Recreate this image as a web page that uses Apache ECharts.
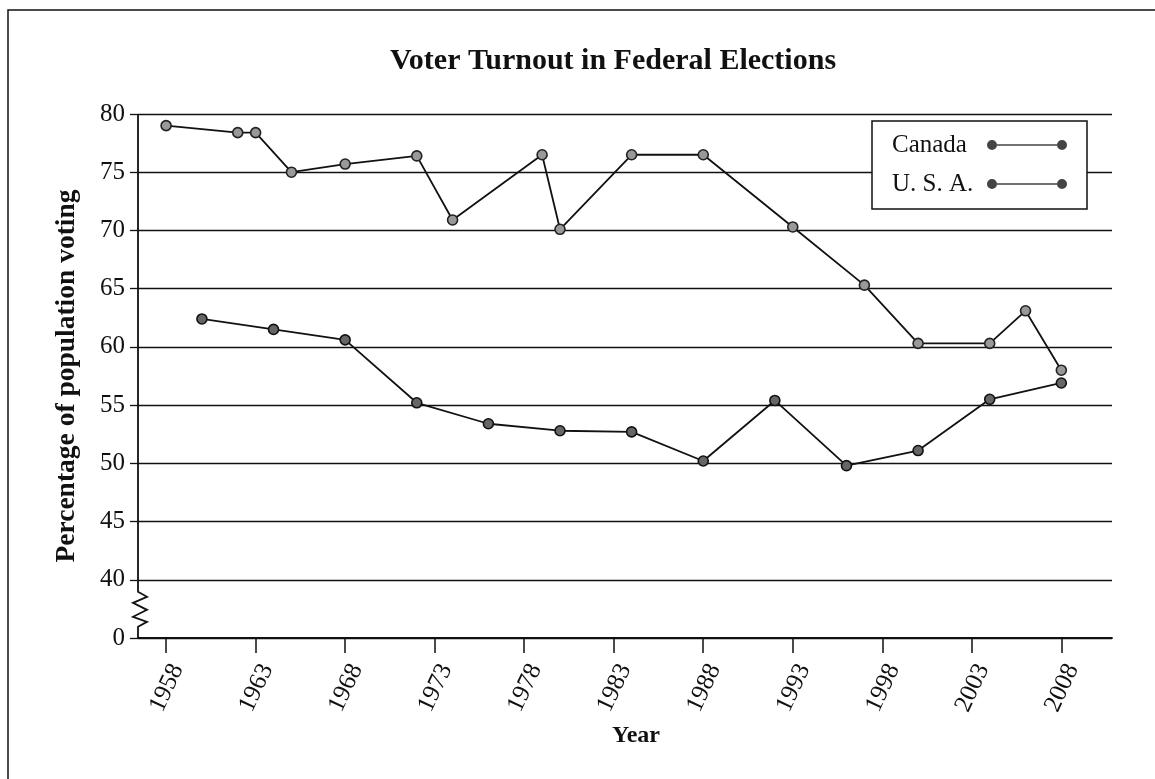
<!DOCTYPE html>
<html>
<head>
<meta charset="utf-8">
<script src="https://cdn.jsdelivr.net/npm/echarts@6/dist/echarts.min.js"></script>
<style>
html,body{margin:0;padding:0;background:#fff;}
#chart{width:1155px;height:779px;}
</style>
</head>
<body>
<div id="chart"></div>
<script>
// ---- data ----
const canadaYears = [1958, 1962, 1963, 1965, 1968, 1972, 1974, 1979, 1980, 1984, 1988, 1993, 1997, 2000, 2004, 2006, 2008];
const canadaTurnout = [79.0, 78.4, 78.4, 75.0, 75.7, 76.4, 70.9, 76.5, 70.1, 76.5, 76.5, 70.3, 65.3, 60.3, 60.3, 63.1, 58.0];
const usaYears = [1960, 1964, 1968, 1972, 1976, 1980, 1984, 1988, 1992, 1996, 2000, 2004, 2008];
const usaTurnout = [62.4, 61.5, 60.6, 55.2, 53.4, 52.8, 52.7, 50.2, 55.4, 49.8, 51.1, 55.5, 56.9];
const yearTicks = [1958, 1963, 1968, 1973, 1978, 1983, 1988, 1993, 1998, 2003, 2008];
const seriesNames = ['Canada', 'U. S. A.'];
// the lowest band of the y axis (35..40) stands for the broken range 0..40
const breakValue = 35;
const breakLabel = '0';

const serif = '"Liberation Serif", "DejaVu Serif", serif';
const chart = echarts.init(document.getElementById('chart'));

const legendIcon = 'path://M0,5a5,5 0 1,0 10,0a5,5 0 1,0 -10,0z M70,5a5,5 0 1,0 10,0a5,5 0 1,0 -10,0z M10,4.3h60v1.4h-60z';

const option = {
  backgroundColor: '#fff',
  animation: false,
  title: {
    text: 'Voter Turnout in Federal Elections',
    left: 608,
    textAlign: 'center',
    top: 41,
    textStyle: { fontFamily: serif, fontWeight: 'bold', fontSize: 30, color: '#111' }
  },
  grid: { left: 138, right: 43, top: 114, bottom: 141 },
  legend: {
    orient: 'vertical',
    left: 872,
    top: 121,
    align: 'right',
    padding: [11, 20, 12, 20],
    itemGap: 13,
    itemWidth: 80,
    itemHeight: 10,
    icon: legendIcon,
    borderColor: '#111',
    borderWidth: 1.5,
    backgroundColor: '#fff',
    itemStyle: { color: '#444', borderColor: '#111', borderWidth: 0 },
    formatter: name => '{t|' + name + '}',
    textStyle: {
      fontFamily: serif, fontSize: 25, color: '#111', lineHeight: 26,
      rich: { t: { width: 90, align: 'left', fontFamily: serif, fontSize: 25, color: '#111', lineHeight: 26 } }
    },
    data: seriesNames
  },
  xAxis: {
    type: 'value',
    min: 1956.43,
    max: 2010.83,
    name: 'Year',
    nameLocation: 'middle',
    nameGap: 86,
    nameTextStyle: { fontFamily: serif, fontWeight: 'bold', fontSize: 24, color: '#111', padding: [0, 0, 0, 22] },
    axisLine: { show: true, onZero: false, lineStyle: { color: '#111', width: 1.8 } },
    axisTick: { show: true, customValues: yearTicks, length: 15, lineStyle: { color: '#111', width: 1.5 } },
    axisLabel: {
      customValues: yearTicks,
      rotate: 65,
      margin: 22,
      verticalAlign: 'top',
      fontFamily: serif,
      fontSize: 25,
      color: '#111',
      formatter: v => String(v)
    },
    splitLine: { show: false }
  },
  yAxis: {
    type: 'value',
    min: breakValue,
    max: 80,
    interval: 5,
    name: 'Percentage of population voting',
    nameLocation: 'middle',
    nameGap: 57,
    nameTextStyle: { fontFamily: serif, fontWeight: 'bold', fontSize: 27.5, color: '#111' },
    axisLine: { show: false },
    axisTick: { show: true, length: 8, lineStyle: { color: '#111', width: 1.3 } },
    axisLabel: {
      margin: 13,
      fontFamily: serif,
      fontSize: 25,
      color: '#111',
      formatter: v => (v === breakValue ? breakLabel : String(v))
    },
    splitLine: { show: true, lineStyle: { color: '#111', width: 1.4 } }
  },
  series: [
    {
      name: seriesNames[0],
      type: 'line',
      data: canadaYears.map((y, i) => [y, canadaTurnout[i]]),
      symbol: 'circle',
      symbolSize: 10,
      lineStyle: { color: '#111', width: 1.8 },
      itemStyle: { color: '#999', borderColor: '#222', borderWidth: 1.6 },
      z: 3
    },
    {
      name: seriesNames[1],
      type: 'line',
      data: usaYears.map((y, i) => [y, usaTurnout[i]]),
      symbol: 'circle',
      symbolSize: 10,
      lineStyle: { color: '#111', width: 1.8 },
      itemStyle: { color: '#666', borderColor: '#111', borderWidth: 1.6 },
      z: 3
    }
  ]
};
chart.setOption(option);

// y axis line with a break zig-zag, positioned through the axis scales
function drawAxisBreak() {
  const ax = chart.convertToPixel({ xAxisIndex: 0 }, option.xAxis.min);
  const py = v => chart.convertToPixel({ yAxisIndex: 0 }, v);
  const zigVals = [38.97, 38.54, 38.02, 37.42, 36.82, 36.39, 35.96];
  const zigOff = [0, 9, -5, 9, -5, 9, 0];
  const pts = [[ax, py(80)]];
  zigVals.forEach((v, i) => pts.push([ax + zigOff[i], py(v)]));
  pts.push([ax, py(breakValue)]);
  chart.setOption({
    graphic: [
      {
        type: 'rect',
        shape: { x: 8, y: 10, width: 1200, height: 800 },
        style: { fill: 'none', stroke: '#111', lineWidth: 1.5 },
        silent: true,
        z: 0
      },
      {
        type: 'polyline',
        shape: { points: pts },
        style: { fill: 'none', stroke: '#111', lineWidth: 1.8 },
        silent: true,
        z: 10
      }
    ]
  });
}
drawAxisBreak();
</script>
</body>
</html>
